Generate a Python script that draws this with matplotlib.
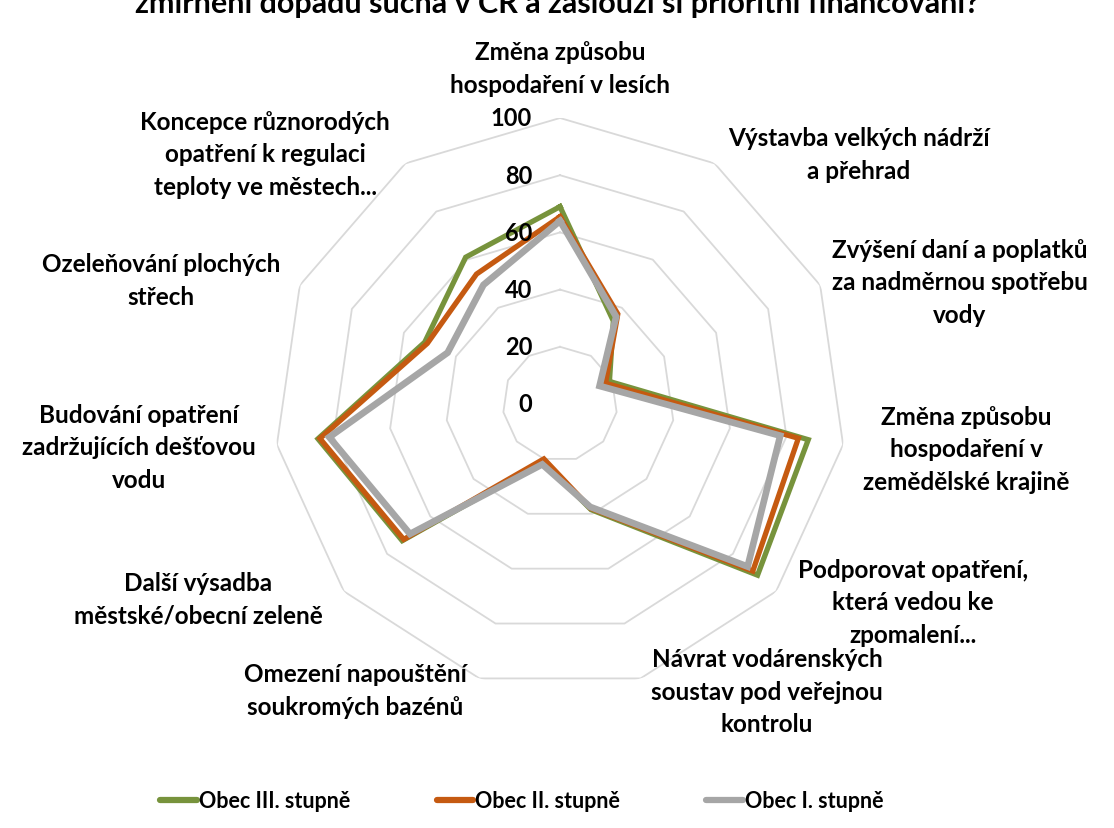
import numpy as np
import matplotlib
matplotlib.use('Agg')
import matplotlib.pyplot as plt
from matplotlib.lines import Line2D

plt.rcParams['font.family'] = ['Lato', 'DejaVu Sans']
plt.rcParams['font.weight'] = 'bold'

categories = [
    'Změna způsobu\nhospodaření v lesích',
    'Výstavba velkých nádrží\na přehrad',
    'Zvýšení daní a poplatků\nza nadměrnou spotřebu\nvody',
    'Změna způsobu\nhospodaření v\nzemědělské krajině',
    'Podporovat opatření,\nkterá vedou ke\nzpomalení...',
    'Návrat vodárenských\nsoustav pod veřejnou\nkontrolu',
    'Omezení napouštění\nsoukromých bazénů',
    'Další výsadba\nměstské/obecní zeleně',
    'Budování opatření\nzadržujících dešťovou\nvodu',
    'Ozeleňování plochých\nstřech',
    'Koncepce různorodých\nopatření k regulaci\nteploty ve městech...',
]
obec_3 = [69, 34.5, 19, 87.7, 91.4, 38.5, 21, 73, 85.5, 52, 61]
obec_2 = [65.5, 37.4, 17.5, 84.2, 89.2, 38, 20, 72.3, 84.8, 51, 54]
obec_1 = [64, 36.3, 15.2, 77.8, 86.8, 37.5, 22, 69.4, 81.5, 43.2, 49.5]
series_names = ['Obec III. stupně', 'Obec II. stupně', 'Obec I. stupně']
colors = ['#77933c', '#c55a11', '#a6a6a6']
r_ticks = [0, 20, 40, 60, 80, 100]

# label block centres in pixels
label_pos = [(560, 69), (859, 155), (960, 283), (966, 450), (913, 603),
             (767, 692), (355, 691), (198, 600), (139, 448), (161, 281),
             (265, 155)]

W, H = 1114, 829
fig = plt.figure(figsize=(W / 100, H / 100), dpi=100)
cx, cy, R = 560, 405, 286
ax = fig.add_axes([(cx - R) / W, 1 - (cy + R) / H, 2 * R / W, 2 * R / H],
                  projection='polar')
ax.set_theta_offset(np.pi / 2)
ax.set_theta_direction(-1)
ax.set_ylim(0, 100)
ax.grid(False)
ax.spines['polar'].set_visible(False)
ax.set_xticks([])
ax.set_yticks([])

n = len(categories)
angles = np.linspace(0, 2 * np.pi, n, endpoint=False)
closed = np.append(angles, angles[0])

for r in r_ticks[1:]:
    ax.plot(closed, [r] * (n + 1), color='#d9d9d9', lw=1.3, zorder=1)

widths = [3.8, 3.8, 4.8]
for vals, c, lw in zip([obec_3, obec_2, obec_1], colors, widths):
    ax.plot(closed, vals + vals[:1], color=c, lw=lw, solid_joinstyle='miter', zorder=3)

for r in r_ticks:
    ax.annotate(str(r), xy=(0, r), xytext=(-20, 0), textcoords='offset points',
                ha='right', va='center', fontsize=17, fontweight='bold', zorder=5)

for lab, (x, y) in zip(categories, label_pos):
    fig.text(x / W, 1 - y / H, lab, ha='center', va='center', fontsize=17.5,
             fontweight='bold', linespacing=1.5)

fig.text(557 / W, 1 - 13 / H,
         'zmírnění dopadů sucha v ČR a zaslouží si prioritní financování?',
         ha='center', va='baseline', fontsize=22, fontweight='bold')

handles = [Line2D([0], [0], color=c, lw=4.5, solid_capstyle='round') for c in colors]
fig.legend(handles, series_names, loc='center', bbox_to_anchor=(522 / W, 1 - 802 / H),
           ncol=3, frameon=False, fontsize=15.5, handlelength=1.7, handletextpad=0.1,
           columnspacing=4.0)

fig.savefig('out.png', dpi=100)
